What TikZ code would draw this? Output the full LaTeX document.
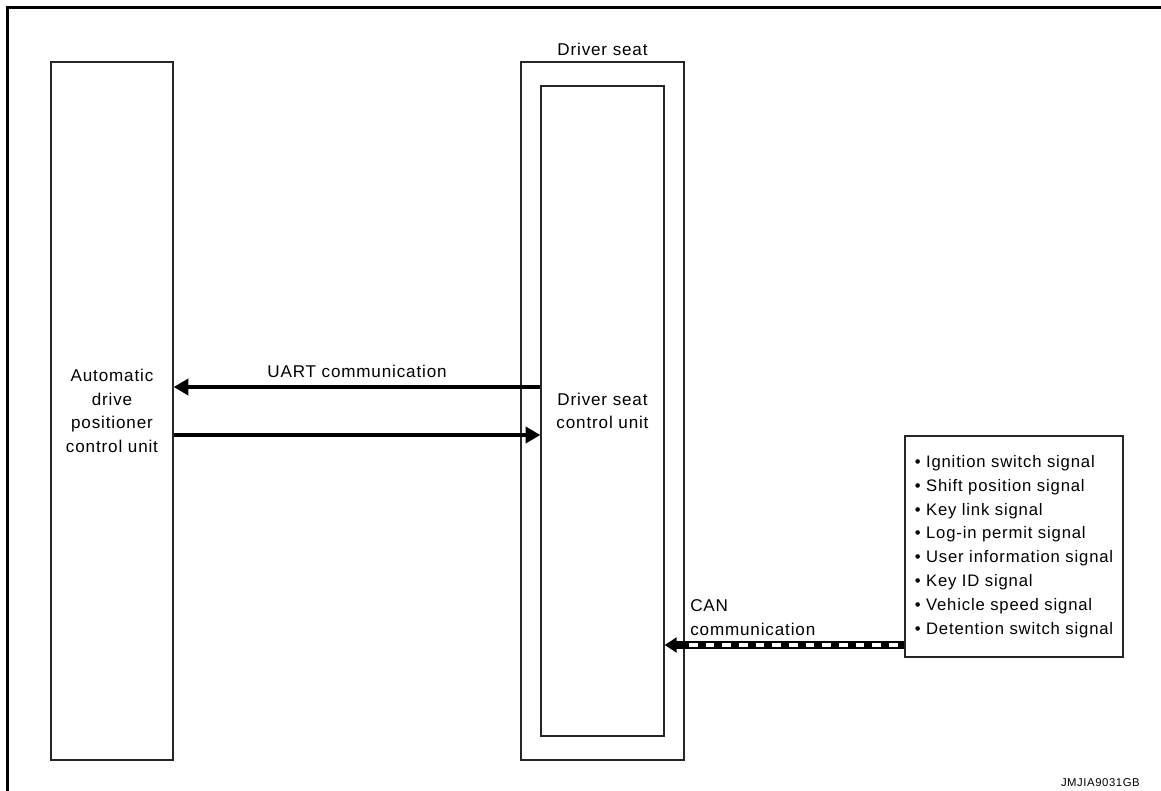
\documentclass[tikz,border=0pt]{standalone}
\usepackage{fontspec}
\setmainfont{Liberation Sans}[LetterSpace=5]
\usetikzlibrary{arrows.meta,positioning}
\begin{document}
\begin{tikzpicture}[x=0.75pt,y=-0.75pt,
font=\fontsize{12.8}{17.8}\selectfont,
unit box/.style={draw=black!85,line width=1pt,align=center,inner sep=0pt},
uart/.style={line width=3pt,-{Triangle[length=11pt,width=12pt]}},
can/.style={line width=5.5pt,-{Triangle[length=9pt,width=11pt]}}]
\useasboundingbox (0,0) rectangle (1161,791);
%frame
  \draw[line width=2.25pt] (7.5,791) -- (7.5,7.5) -- (1161,7.5);
%adp
  \node[unit box,minimum width=91.5pt,minimum height=523.5pt] (adpcu) at (112,411)
    {Automatic\\drive\\positioner\\control unit};
%seat
  \node[unit box,minimum width=122.25pt,minimum height=523.5pt] (seat) at (602.5,411) {};
  \node[above=1pt of seat] {Driver seat};
  \node[unit box,minimum width=92.25pt,minimum height=487.5pt] (dscu) at (602.5,411)
    {Driver seat\\control unit};
%signals
  \node[unit box,minimum width=163.5pt,minimum height=165.75pt,align=left,
    font=\fontsize{12.5}{17.9}\selectfont] (sig) at (1014,546.5)
    {\textbullet\ Ignition switch signal\\
     \textbullet\ Shift position signal\\
     \textbullet\ Key link signal\\
     \textbullet\ Log-in permit signal\\
     \textbullet\ User information signal\\
     \textbullet\ Key ID signal\\
     \textbullet\ Vehicle speed signal\\
     \textbullet\ Detention switch signal};
%paths
  \draw[uart] (dscu.west |- 0,387) -- node[above=2pt] {UART communication} (adpcu.east |- 0,387);
  \draw[uart] (adpcu.east |- 0,435) -- (dscu.west |- 0,435);
  \draw[can] (sig.west |- 0,645) -- (dscu.east |- 0,645);
  \draw[white,line width=2.5pt,dash pattern=on 6.5pt off 6pt] ([xshift=-5pt]sig.west |- 0,645) -- ([xshift=14pt]dscu.east |- 0,645);
  \node[anchor=south west,align=left,inner sep=0pt] (canlbl) at (690,636) {CAN\\communication};
%id
  \node[anchor=south east,inner sep=0pt,font=\fontsize{8.5}{10}\selectfont] (code) at (1140,787) {JMJIA9031GB};
\end{tikzpicture}
\end{document}
